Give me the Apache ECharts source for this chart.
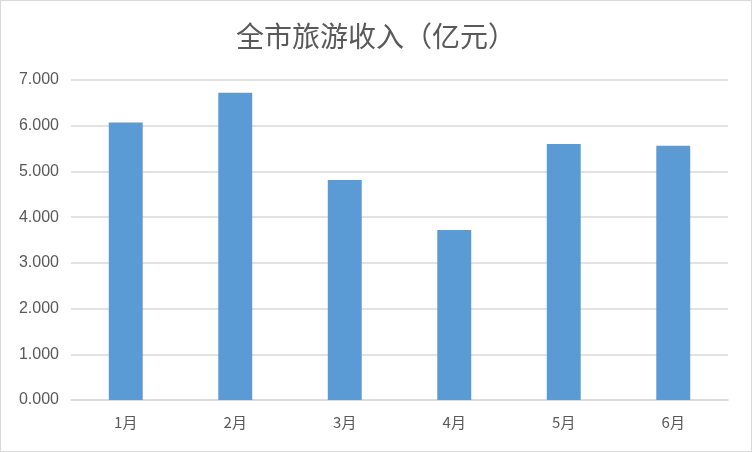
<!DOCTYPE html>
<html lang="zh">
<head>
    <meta charset="UTF-8">
    <title>全市旅游收入</title>
    <script src="https://cdn.jsdelivr.net/npm/echarts@6/dist/echarts.min.js"></script>
    <style>
        html, body { margin: 0; padding: 0; background: #fff; }
        #main { width: 750px; height: 450px; border: 1px solid #d9d9d9; }
    </style>
</head>
<body>
<div id="main"></div>
<script type="text/javascript">
    // 数据
    var months = ['1月', '2月', '3月', '4月', '5月', '6月'];
    var income = [6.07, 6.72, 4.81, 3.72, 5.60, 5.56];

    var myChart = echarts.init(document.getElementById('main'));

    myChart.setOption({
        animation: false,
        title: {
            text: '全市旅游收入（亿元）',
            left: 'center',
            top: 16,
            textStyle: {
                fontFamily: 'Noto Sans CJK SC',
                fontSize: 28,
                fontWeight: 'normal',
                color: '#595959'
            }
        },
        grid: {
            left: 70,
            right: 23,
            top: 79,
            bottom: 51
        },
        xAxis: {
            type: 'category',
            data: months,
            axisTick: { show: false },
            axisLine: { lineStyle: { color: '#d9d9d9', width: 1.5 } },
            axisLabel: {
                margin: 15,
                fontSize: 15,
                color: '#595959',
                fontFamily: 'Noto Sans CJK SC'
            }
        },
        yAxis: {
            type: 'value',
            min: 0,
            max: 7,
            interval: 1,
            axisLine: { show: false },
            axisTick: { show: false },
            axisLabel: {
                margin: 12,
                fontSize: 16,
                color: '#595959',
                fontFamily: 'Liberation Sans Narrow, Liberation Sans',
                formatter: function (v) { return v.toFixed(3); }
            },
            splitLine: { lineStyle: { color: '#d9d9d9', width: 1.5 } }
        },
        series: [{
            name: '旅游收入',
            type: 'bar',
            barWidth: '31%',
            itemStyle: { color: '#5b9bd5' },
            data: income
        }]
    });
</script>
</body>
</html>
